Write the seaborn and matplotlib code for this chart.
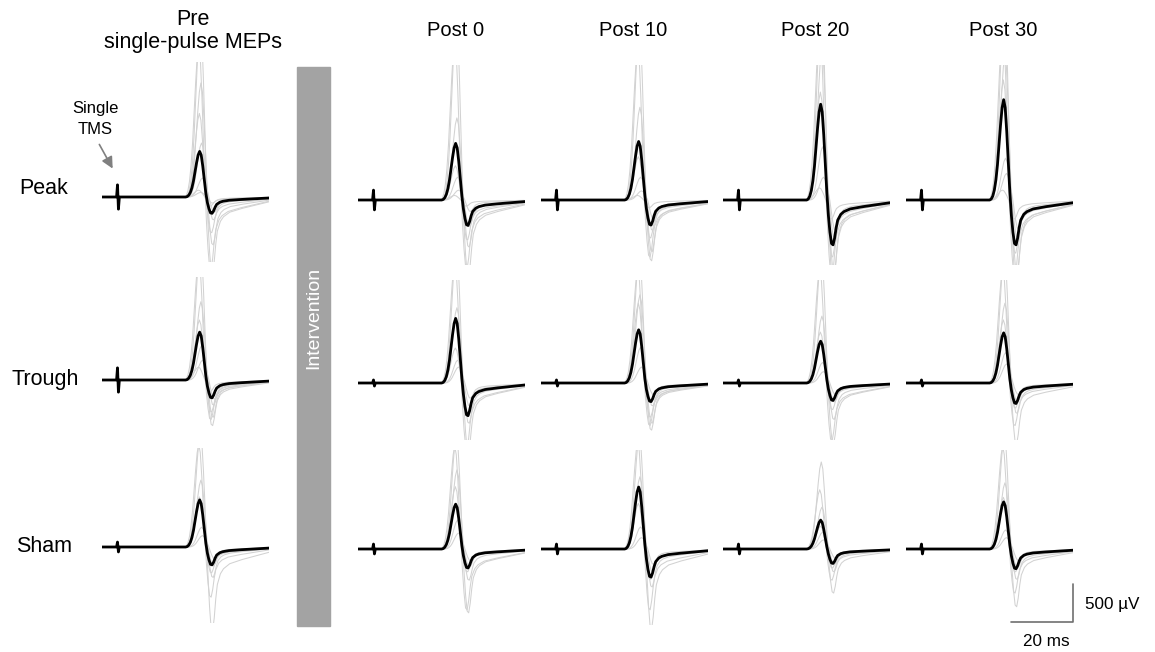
import pandas as pd
import seaborn as sns
import matplotlib.pyplot as plt
from matplotlib.patches import Rectangle, FancyArrowPatch

# Conditions and time points
rows = ["Peak", "Trough", "Sham"]
cols = ["Pre\nsingle-pulse MEPs", "Post 0", "Post 10", "Post 20", "Post 30"]

# MEP template (ms after the TMS pulse)
times = [-5, -0.3, 0, 0.3, 0.6,
         22, 22.5, 23, 23.5, 24, 24.5, 25, 25.5, 26, 26.5, 27, 27.5, 28, 28.5, 29,
         29.5, 30, 30.5, 31, 31.5, 32, 33, 34, 36, 40, 45, 49]
art_shape = [0, 0, 1, -1, 0] + [0] * 27
pos_shape = [0, 0, 0, 0, 0,
             0, 0.01, 0.04, 0.1, 0.2, 0.35, 0.55, 0.75, 0.92, 1.0, 0.92, 0.68, 0.38, 0.1, 0,
             0, 0, 0, 0, 0, 0, 0, 0, 0, 0, 0, 0]
neg_shape = [0, 0, 0, 0, 0,
             0, 0, 0, 0, 0, 0, 0, 0, 0, 0, 0, 0, 0, -0.05, -0.35,
             -0.72, -0.97, -1.0, -0.85, -0.62, -0.45, -0.32, -0.26, -0.2, -0.15, -0.1, -0.06]

# Mean MEP amplitudes (uV), rows x columns
mean_peak = [[600, 745, 770, 1260, 1320],
             [630, 850, 700, 550, 660],
             [620, 590, 815, 380, 620]]
mean_trough = [[-215, -335, -330, -590, -590],
               [-235, -430, -245, -230, -270],
               [-235, -250, -370, -190, -260]]
artifact = [[160, 130, 130, 130, 130],
            [160, 40, 40, 40, 40],
            [65, 65, 65, 65, 65]]

# Single-trial amplitudes (uV), one list per panel
gray_peak_Peak = [[2300, 2000, 1500, 1100, 710, 250, 90, 60],
                  [2400, 2100, 1080, 450, 300, 130, 60],
                  [2300, 2000, 1220, 570, 300, 120, 60],
                  [2600, 2300, 2000, 1420, 700, 300, 160],
                  [2600, 2300, 1900, 1580, 550, 350, 130]]
gray_trough_Peak = [[-1000, -950, -630, -470, -300, -200, -120, -80],
                    [-1000, -900, -620, -525, -350, -150, -80],
                    [-800, -750, -680, -500, -400, -250, -100],
                    [-1100, -1000, -950, -750, -500, -400, -250],
                    [-1100, -1000, -950, -700, -500, -380, -250]]
gray_peak_Trough = [[1800, 1600, 1030, 790, 450, 260, 170],
                    [1800, 1600, 990, 460, 300, 210],
                    [1700, 1500, 1160, 1050, 470, 210],
                    [1700, 1500, 880, 670, 270, 150],
                    [1700, 1500, 1050, 830, 400, 250]]
gray_trough_Trough = [[-600, -520, -490, -420, -330, -250, -150],
                      [-900, -850, -530, -400, -300, -200],
                      [-620, -560, -530, -450, -300, -150],
                      [-800, -760, -480, -350, -250, -150],
                      [-800, -560, -400, -330, -250, -150]]
gray_peak_Sham = [[1500, 1350, 880, 660, 260, 150],
                  [1500, 1350, 1040, 820, 380, 210],
                  [1500, 1400, 950, 600, 290, 150],
                  [1145, 780, 550, 300, 220, 120],
                  [1500, 1350, 870, 680, 250, 150]]
gray_trough_Sham = [[-1100, -660, -400, -340, -250, -150],
                    [-840, -800, -410, -300, -240, -150],
                    [-1050, -800, -500, -400, -300, -200],
                    [-580, -410, -300, -250, -200, -120],
                    [-760, -580, -400, -300, -250, -150]]
gray_peaks = [gray_peak_Peak, gray_peak_Trough, gray_peak_Sham]
gray_troughs = [gray_trough_Peak, gray_trough_Trough, gray_trough_Sham]
trial_shift = [0.2, -0.3, 0.4, -0.1, 0.6, 0.9, -0.4, 0.3]

# layout in pixels
W, H = 1155, 652
PX_PER_MS = 3.1
PX_PER_UV = 38 / 500
col_x = [102, 358, 541, 723, 906]
row_top = [65, 280, 450]
row_bottom = [265, 440, 625]
row_base = [200, 383, 549]
pre_shift = [-3, -3, -2]

sns.set_style("white")
plt.rcParams["font.family"] = ["Liberation Sans", "DejaVu Sans"]
plt.rcParams["text.color"] = "black"

fig = plt.figure(figsize=(W / 100, H / 100), dpi=100)


def px_axes(x0, y0, w, h):
    return fig.add_axes([x0 / W, 1 - (y0 + h) / H, w / W, h / H])


def trace(peak, trough, art, shift=0.0):
    # shift moves only the MEP part, not the stimulus artifact
    t = [v + shift if i >= 5 else v for i, v in enumerate(times)]
    y = [peak * p + (-trough) * n + art * a
         for p, n, a in zip(pos_shape, neg_shape, art_shape)]
    return t, y


for r in range(3):
    for c in range(5):
        dy = pre_shift[r] if c == 0 else 0
        top = row_top[r] + dy
        h = row_bottom[r] - row_top[r]
        base = row_base[r] + dy
        ax = px_axes(col_x[c], top, 54 * PX_PER_MS, h)
        ax.set_xlim(-5, 49)
        ax.set_ylim(-(top + h - base) / PX_PER_UV, (base - top) / PX_PER_UV)

        recs = []
        for k, (gp, gt) in enumerate(zip(gray_peaks[r][c], gray_troughs[r][c])):
            t, y = trace(gp, gt, artifact[r][c], trial_shift[k])
            recs += [{"t": a, "uV": b, "trial": k} for a, b in zip(t, y)]
        df = pd.DataFrame(recs)
        sns.lineplot(data=df, x="t", y="uV", units="trial", estimator=None,
                     color="#d2d2d2", lw=0.75, ax=ax, legend=False)

        t, y = trace(mean_peak[r][c], mean_trough[r][c], artifact[r][c])
        sns.lineplot(x=t, y=y, color="black", lw=2.0, ax=ax)
        ax.axis("off")

        if r == 2 and c == 4:
            # scale bar: 500 uV x 20 ms
            ax.plot([29, 49, 49], [-960, -960, -460], color="#707070",
                    lw=1.2, clip_on=False)

# column titles
fig.text(193 / W, 1 - 31 / H, cols[0], ha="center", va="center",
         fontsize=15.5, linespacing=1.1)
for x, name in zip([456, 633, 815, 1003], cols[1:]):
    fig.text(x / W, 1 - 30 / H, name, ha="center", va="center", fontsize=14.5)

# row labels
for y, name, x in zip([188, 380, 547], rows, [19, 11, 16]):
    fig.text(x / W, 1 - y / H, name, ha="left", va="center", fontsize=15.5)

# intervention bar
fig.patches.append(Rectangle((297 / W, 1 - 626 / H), 33 / W, 559 / H,
                             transform=fig.transFigure, color="#a3a3a3"))
fig.text(314 / W, 1 - 318 / H, "Intervention", rotation=90, color="white",
         ha="center", va="center", fontsize=14)

# single TMS annotation
fig.text(95 / W, 1 - 119 / H, "Single\nTMS", ha="center", va="center",
         fontsize=12, linespacing=1.45)
fig.patches.append(FancyArrowPatch((98 / W, 1 - 142 / H), (114 / W, 1 - 171 / H),
                                   transform=fig.transFigure, color="#808080",
                                   arrowstyle="-|>", mutation_scale=17, lw=1.2))

fig.text(1085 / W, 1 - 604 / H, "500 µV", ha="left", va="center", fontsize=12.3)
fig.text(1046 / W, 1 - 641 / H, "20 ms", ha="center", va="center", fontsize=12.3)

plt.savefig("out.png", dpi=100)
